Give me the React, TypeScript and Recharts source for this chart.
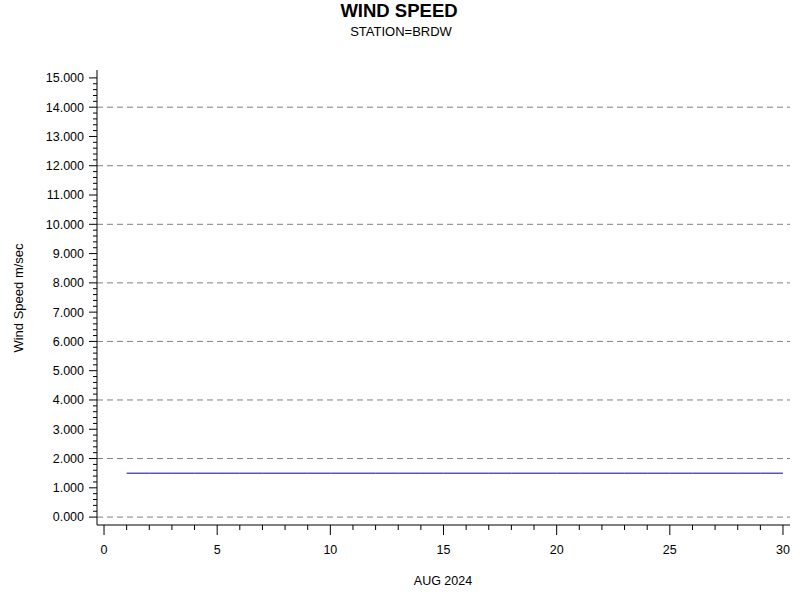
import { Line, LineChart, ReferenceLine, XAxis, YAxis } from "recharts";

const days = [1, 2, 3, 4, 5, 6, 7, 8, 9, 10, 11, 12, 13, 14, 15, 16, 17, 18, 19, 20, 21, 22, 23, 24, 25, 26, 27, 28, 29, 30];
const windSpeed = [1.5, 1.5, 1.5, 1.5, 1.5, 1.5, 1.5, 1.5, 1.5, 1.5, 1.5, 1.5, 1.5, 1.5, 1.5, 1.5, 1.5, 1.5, 1.5, 1.5, 1.5, 1.5, 1.5, 1.5, 1.5, 1.5, 1.5, 1.5, 1.5, 1.5];
const gridLevels = [0, 2, 4, 6, 8, 10, 12, 14];

// minor ticks every 0.2 on y, every 1 on x
const yTicks: number[] = [];
for (let i = 0; i <= 75; i++) yTicks.push(Math.round(i * 2) / 10);
const xTicks: number[] = [];
for (let i = 0; i <= 30; i++) xTicks.push(i);

const data = days.map((d, i) => ({ day: d, speed: windSpeed[i] }));

const font = '"Liberation Sans", Arial, sans-serif';

function YTick({ x, y, payload }: any) {
  const v = payload.value;
  const major = Math.abs(v - Math.round(v)) < 1e-6;
  return (
    <g>
      <line x1={x - (major ? 8 : 4)} x2={x} y1={y} y2={y} stroke="#000" />
      {major && (
        <text x={x - 13} y={y} dy="0.35em" textAnchor="end" fontSize={12.5} fill="#000" fontFamily={font}>
          {v.toFixed(3)}
        </text>
      )}
    </g>
  );
}

function XTick({ x, y, payload }: any) {
  const v = payload.value;
  const major = v % 5 === 0;
  return (
    <g>
      <line x1={x} x2={x} y1={y} y2={y + (major ? 10 : 5)} stroke="#000" />
      {major && (
        <text x={x} y={y + 25} dy="0.35em" textAnchor="middle" fontSize={12.5} fill="#000" fontFamily={font}>
          {v}
        </text>
      )}
    </g>
  );
}

export default function App() {
  return (
    <div style={{ position: "absolute", left: 0, top: 0, width: 800, height: 600, background: "#fff", fontFamily: font }}>
      <div style={{ position: "absolute", left: 399, top: 11, transform: "translate(-50%, -50%)", fontSize: 18.5, fontWeight: "bold", whiteSpace: "nowrap" }}>
        WIND SPEED
      </div>
      <div style={{ position: "absolute", left: 401, top: 31, transform: "translate(-50%, -50%)", fontSize: 13, whiteSpace: "nowrap" }}>
        STATION=BRDW
      </div>
      <div style={{ position: "absolute", left: 443, top: 581, transform: "translate(-50%, -50%)", fontSize: 12.5, whiteSpace: "nowrap" }}>
        AUG 2024
      </div>
      <div style={{ position: "absolute", left: 18, top: 298, transform: "translate(-50%, -50%) rotate(-90deg)", fontSize: 13, whiteSpace: "nowrap" }}>
        Wind Speed m/sec
      </div>
      <LineChart width={800} height={600} data={data} margin={{ top: 70, right: 10, left: 0, bottom: 0 }}>
        <XAxis
          xAxisId="main"
          dataKey="day"
          type="number"
          domain={[-0.31, 30.31]}
          ticks={xTicks}
          interval={0}
          height={75}
          tickSize={0}
          tickMargin={0}
          tick={<XTick />}
          axisLine={{ stroke: "#000" }}
          tickLine={false}
          allowDataOverflow
        />
        <XAxis xAxisId="top" orientation="top" type="number" domain={[-0.31, 30.31]} height={0} tick={false} tickLine={false} axisLine={{ stroke: "#000" }} />
        <YAxis
          yAxisId="main"
          type="number"
          domain={[-0.27, 15.27]}
          ticks={yTicks}
          interval={0}
          width={97}
          tickSize={0}
          tickMargin={0}
          tick={<YTick />}
          axisLine={{ stroke: "#000" }}
          tickLine={false}
          allowDataOverflow
        />
        <YAxis yAxisId="right" orientation="right" type="number" domain={[-0.27, 15.27]} width={0} tick={false} tickLine={false} axisLine={{ stroke: "#000" }} />
        {gridLevels.map((g) => (
          <ReferenceLine key={g} xAxisId="main" yAxisId="main" y={g} stroke="#808080" strokeDasharray="6 4" />
        ))}
        <Line
          xAxisId="main"
          yAxisId="main"
          type="linear"
          dataKey="speed"
          stroke="#0000AA"
          strokeWidth={1}
          dot={false}
          isAnimationActive={false}
        />
      </LineChart>
    </div>
  );
}
